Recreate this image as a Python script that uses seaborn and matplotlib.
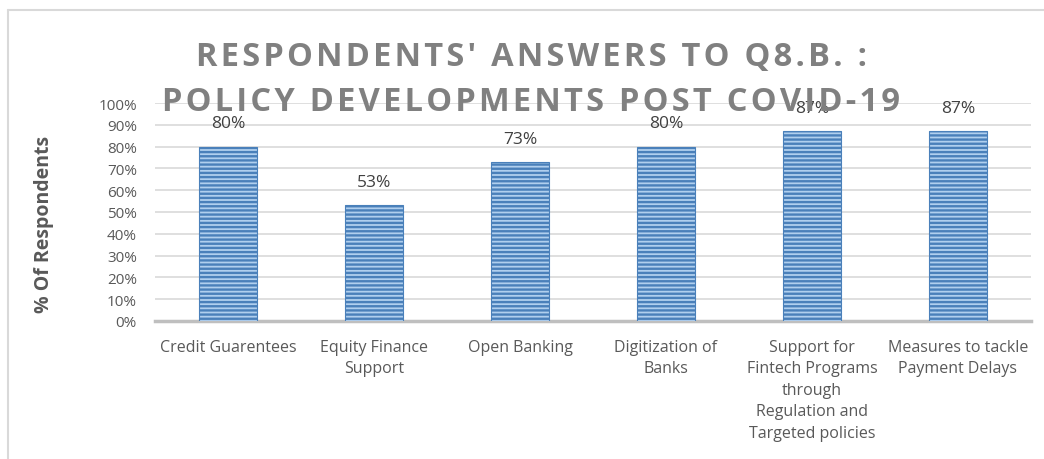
import numpy as np
import matplotlib.pyplot as plt
import seaborn as sns
import pandas as pd
from matplotlib.ticker import PercentFormatter
from matplotlib.lines import Line2D

# data
categories = ['Credit Guarentees', 'Equity Finance\nSupport', 'Open Banking',
              'Digitization of\nBanks',
              'Support for\nFintech Programs\nthrough\nRegulation and\nTargeted policies',
              'Measures to tackle\nPayment Delays']
values = [80, 53, 73, 80, 87, 87]
yticks = list(range(0, 101, 10))
title_lines = ["RESPONDENTS' ANSWERS TO Q8.B. :", "POLICY DEVELOPMENTS POST COVID-19"]

sns.set_style('white')
plt.rcParams['font.family'] = ['Open Sans', 'DejaVu Sans']
plt.rcParams['hatch.linewidth'] = 1.7


def spaced(s):
    # poor man's letter spacing
    return '\u200a'.join(s)


df = pd.DataFrame({'category': categories, 'value': values})

fig = plt.figure(figsize=(10.44, 4.6), dpi=100)
ax = fig.add_axes([155 / 1044, 1 - 322 / 460, (1031 - 155) / 1044, (322 - 104) / 460])

sns.barplot(data=df, x='category', y='value', ax=ax, width=0.4, color='#B0CFEE',
            edgecolor='#4F86BE', linewidth=0.8, hatch='----', saturation=1, zorder=3)
for p in ax.patches:
    p.set_facecolor('#B0CFEE')
    p.set_edgecolor('#4A80BA')

ax.bar_label(ax.containers[0], fmt='%d%%', padding=11, fontsize=12.5, color='#404040')

ax.set_ylim(0, 100)
ax.set_xlim(-0.5, len(categories) - 0.5)
ax.set_yticks(yticks)
ax.yaxis.set_major_formatter(PercentFormatter(100, decimals=0))
ax.grid(axis='y', color='#D9D9D9', linewidth=1.2, zorder=0)
ax.set_axisbelow(True)
for s in ['top', 'right', 'left']:
    ax.spines[s].set_visible(False)
ax.spines['bottom'].set_color('#BFBFBF')
ax.spines['bottom'].set_linewidth(2.5)
ax.tick_params(axis='both', length=0, colors='#595959')
ax.tick_params(axis='y', pad=13, labelsize=11)
ax.tick_params(axis='x', pad=13, labelsize=11.5)
for lbl in ax.get_xticklabels():
    lbl.set_linespacing(1.45)
ax.set_xlabel('')
ax.set_ylabel('')

fig.text(44 / 1044, 1 - 224 / 460, '% Of Respondents', rotation=90, ha='center', va='center',
         fontsize=14, fontweight='bold', color='#595959')

fig.text(531 / 1044, 1 - 58 / 460, spaced(title_lines[0]), ha='center', va='center',
         fontsize=23.5, fontweight='bold', color='#808080', zorder=5)
fig.text(531 / 1044, 1 - 102.5 / 460, spaced(title_lines[1]), ha='center', va='center',
         fontsize=23.5, fontweight='bold', color='#808080', zorder=5)

# chart area border (top and left visible)
fig.add_artist(Line2D([8 / 1044, 8 / 1044], [0, 1 - 11 / 460], color='#D9D9D9', linewidth=1.5))
fig.add_artist(Line2D([8 / 1044, 1], [1 - 11 / 460, 1 - 11 / 460], color='#D9D9D9', linewidth=1.5))

plt.savefig('out.png', dpi=100)
